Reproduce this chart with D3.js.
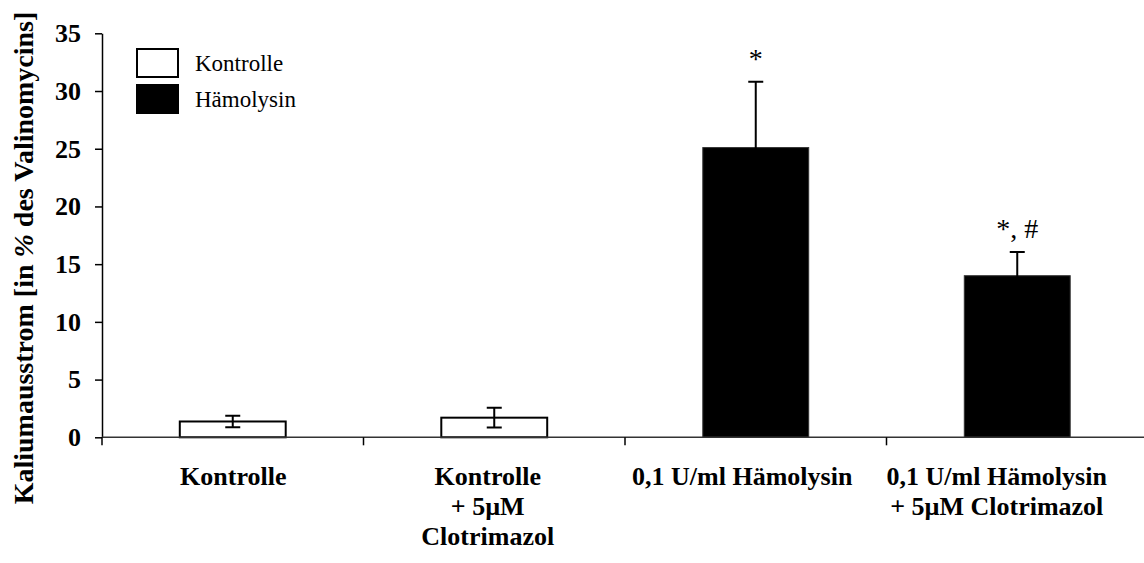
<!DOCTYPE html>
<html>
<head>
<meta charset="utf-8">
<script src="https://cdn.jsdelivr.net/npm/d3@7"></script>
<style>
  html, body { margin: 0; padding: 0; background: #fff; }
  svg { display: block; }
  text { font-family: "Liberation Serif", "Times New Roman", Times, serif; }
</style>
</head>
<body>
<svg id="chart" width="1144" height="563"></svg>
<script>
// ---- data ----
const categories = [
  "Kontrolle",
  "Kontrolle + 5µM Clotrimazol",
  "0,1 U/ml Hämolysin",
  "0,1 U/ml Hämolysin + 5µM Clotrimazol"
];
const categoryLabelLines = [
  ["Kontrolle"],
  ["Kontrolle", "+ 5µM", "Clotrimazol"],
  ["0,1 U/ml Hämolysin"],
  ["0,1 U/ml Hämolysin", "+ 5µM Clotrimazol"]
];
const values = [1.37, 1.7, 25.1, 14.0];
const errors = [0.5, 0.86, 5.7, 2.05];
const groups = ["Kontrolle", "Kontrolle", "Hämolysin", "Hämolysin"];
const annotations = ["", "", "*", "*, #"];
const legendItems = ["Kontrolle", "Hämolysin"];
const yTicks = [0, 5, 10, 15, 20, 25, 30, 35];
const yTitle = ["Kaliumausstrom [in ", "%", " des Valinomycins]"];

// ---- layout ----
const FONT = "'Liberation Serif', 'Times New Roman', Times, serif";
const svg = d3.select("#chart");
const plotLeft = 102, plotRight = 1148, plotTop = 33.3, plotBottom = 437.3;

const x = d3.scaleBand().domain(categories).range([plotLeft, plotRight]).padding(0);
const labelX = d3.scaleBand().domain(categories).range([106, 1124]).padding(0);
const y = d3.scaleLinear().domain([0, 35]).range([plotBottom, plotTop]);
const fill = d3.scaleOrdinal().domain(legendItems).range(["#ffffff", "#000000"]);
const barW = x.bandwidth() * 0.405;

const data = categories.map((c, i) => ({
  cat: c, value: values[i], err: errors[i], group: groups[i], note: annotations[i], lines: categoryLabelLines[i]
}));

// bars
svg.append("g").selectAll("rect").data(data).join("rect")
  .attr("x", d => x(d.cat) + x.bandwidth() / 2 - barW / 2)
  .attr("y", d => y(d.value))
  .attr("width", barW)
  .attr("height", d => y(0) - y(d.value))
  .attr("fill", d => fill(d.group))
  .attr("stroke", d => d.group === "Kontrolle" ? "#000" : "#333")
  .attr("stroke-width", d => d.group === "Kontrolle" ? 2 : 1);

// error bars
const capW = 15;
const eb = svg.append("g").attr("stroke", "#000").attr("stroke-width", 2).attr("fill", "none");
eb.selectAll("path").data(data).join("path")
  .attr("d", d => {
    const cx = x(d.cat) + x.bandwidth() / 2;
    const t = y(d.value + d.err), b = y(d.value - d.err);
    return `M${cx},${t}V${b}M${cx - capW / 2},${t}H${cx + capW / 2}M${cx - capW / 2},${b}H${cx + capW / 2}`;
  });

// annotations
svg.append("g").selectAll("text").data(data.filter(d => d.note)).join("text")
  .attr("x", d => x(d.cat) + x.bandwidth() / 2)
  .attr("y", d => y(d.value + d.err) - 14)
  .attr("text-anchor", "middle")
  .attr("font-family", FONT)
  .attr("font-size", 28)
  .attr("fill", "#000")
  .text(d => d.note);

// y axis
const yAxis = svg.append("g")
  .attr("transform", `translate(${plotLeft},0)`)
  .call(d3.axisLeft(y).tickValues(yTicks).tickSize(7).tickSizeOuter(0).tickPadding(14));
yAxis.select(".domain").attr("stroke", "#000").attr("stroke-width", 1.5);
yAxis.selectAll(".tick line").attr("stroke", "#000").attr("stroke-width", 1.5);
yAxis.selectAll(".tick text")
  .attr("font-size", 26).attr("font-weight", "bold").attr("fill", "#000")
  .attr("font-family", FONT);

// x axis
const bounds = categories.map(c => x(c)).concat([x.range()[1]]);
const xg = svg.append("g");
xg.append("line")
  .attr("x1", plotLeft).attr("x2", plotRight)
  .attr("y1", y(0)).attr("y2", y(0))
  .attr("stroke", "#333").attr("stroke-width", 1.5);
xg.selectAll("line.tick").data(bounds).join("line")
  .attr("class", "tick")
  .attr("x1", d => d).attr("x2", d => d)
  .attr("y1", y(0)).attr("y2", y(0) + 8)
  .attr("stroke", "#000").attr("stroke-width", 1.5);

// x labels
const lab = svg.append("g").selectAll("text").data(data).join("text")
  .attr("text-anchor", "middle")
  .attr("font-family", FONT)
  .attr("font-size", 26)
  .attr("font-weight", "bold")
  .attr("fill", "#000");
lab.selectAll("tspan").data(d => d.lines.map(l => ({ l, cat: d.cat }))).join("tspan")
  .attr("x", d => labelX(d.cat) + labelX.bandwidth() / 2)
  .attr("y", (d, i) => 484.5 + i * 30)
  .text(d => d.l);

// y title
const title = svg.append("text")
  .attr("transform", "translate(33,258) rotate(-90)")
  .attr("text-anchor", "middle")
  .attr("font-family", FONT)
  .attr("font-size", 28)
  .attr("font-weight", "bold")
  .attr("fill", "#000");
title.selectAll("tspan").data(yTitle).join("tspan")
  .attr("font-style", (d, i) => i === 1 ? "italic" : "normal")
  .text(d => d);

// legend
const lg = svg.append("g").attr("transform", "translate(137,49)");
const li = lg.selectAll("g").data(legendItems).join("g")
  .attr("transform", (d, i) => `translate(0,${i * 36})`);
li.append("rect")
  .attr("x", 0).attr("y", 0).attr("width", 41).attr("height", 28)
  .attr("fill", d => fill(d))
  .attr("stroke", "#000").attr("stroke-width", 2);
li.append("text")
  .attr("x", 58).attr("y", 22)
  .attr("font-family", FONT)
  .attr("font-size", 23)
  .attr("fill", "#000")
  .text(d => d);
</script>
</body>
</html>
